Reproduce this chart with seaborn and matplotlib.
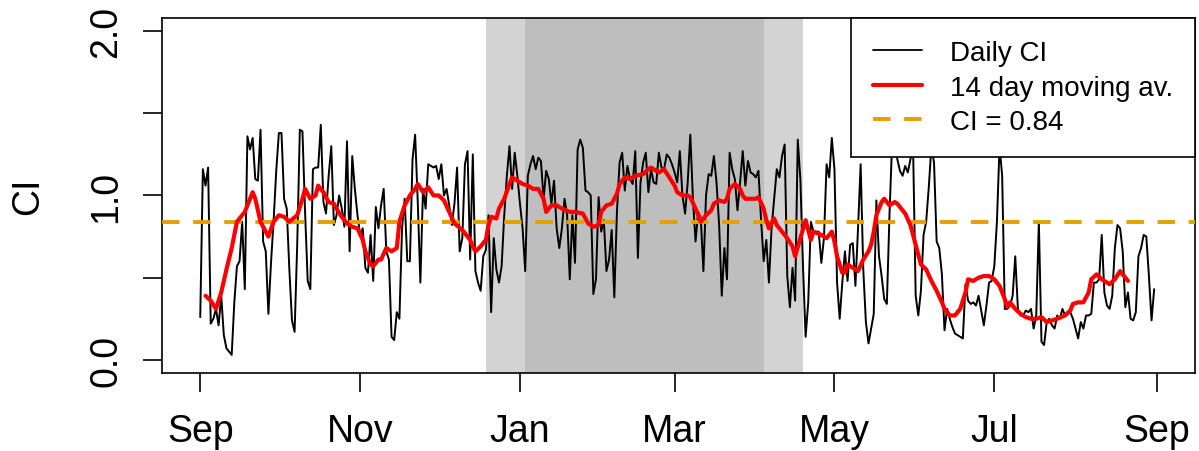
import matplotlib
matplotlib.use("Agg")
import matplotlib.pyplot as plt
import numpy as np
import pandas as pd
import seaborn as sns

# ---- data -------------------------------------------------------------
start_date = "2020-09-01"

# daily CI, one value per day from 1 Sep 2020
daily_ci = [
    # Sep
    0.26, 1.16, 1.06, 1.17, 0.22, 0.25, 0.31, 0.21, 0.39, 0.15,
    0.07, 0.05, 0.03, 0.35, 0.57, 0.60, 0.84, 0.43, 1.36, 1.28,
    1.35, 1.10, 1.09, 1.40, 0.72, 0.66, 0.28, 0.59, 0.85, 1.15,
    # Oct
    1.38, 1.38, 0.98, 0.92, 0.55, 0.24, 0.17, 0.70, 1.40, 1.39,
    0.90, 0.48, 0.43, 1.16, 1.17, 1.17, 1.43, 0.96, 0.89, 1.12,
    1.30, 0.82, 0.88, 1.00, 0.92, 0.81, 1.33, 0.66, 1.24, 1.04,
    0.88,
    # Nov
    0.76, 0.80, 0.56, 0.53, 0.76, 0.48, 0.93, 0.80, 0.94, 1.04,
    0.66, 0.61, 0.14, 0.12, 0.29, 0.25, 0.80, 0.98, 0.60, 0.60,
    1.22, 1.37, 0.96, 0.47, 1.04, 0.92, 1.19, 1.18, 1.17, 1.18,
    # Dec
    1.10, 1.19, 1.00, 1.04, 0.94, 0.82, 0.95, 1.17, 0.66, 0.74,
    1.19, 1.27, 0.61, 1.25, 0.54, 0.47, 0.42, 0.63, 0.67, 0.88,
    0.29, 0.74, 0.55, 0.47, 0.57, 0.88, 1.12, 1.30, 1.04, 1.26,
    1.12,
    # Jan
    0.95, 0.80, 0.54, 1.12, 1.19, 1.24, 1.16, 1.23, 1.21, 0.98,
    1.15, 1.10, 0.95, 1.09, 0.80, 0.68, 0.80, 0.98, 0.88, 0.49,
    0.88, 0.59, 1.28, 1.34, 1.29, 1.03, 1.02, 1.00, 0.40, 0.49,
    0.99,
    # Feb
    0.78, 0.85, 0.54, 0.61, 0.79, 0.38, 0.90, 1.20, 1.26, 1.03,
    1.18, 1.10, 1.07, 1.27, 0.62, 1.08, 1.20, 1.26, 1.02, 1.16,
    1.08, 1.07, 1.26, 1.17, 1.16, 1.25, 1.23, 1.19,
    # Mar
    1.14, 1.08, 1.27, 1.00, 0.89, 1.08, 1.37, 0.98, 0.72, 0.90,
    0.86, 0.54, 1.00, 1.13, 1.12, 1.24, 1.08, 0.82, 0.39, 0.68,
    0.49, 1.26, 1.16, 1.10, 0.91, 1.08, 1.27, 1.06, 1.21, 1.14,
    1.13,
    # Apr
    1.11, 1.15, 0.85, 0.60, 0.73, 0.47, 0.80, 0.98, 1.16, 1.11,
    1.24, 1.31, 0.51, 0.32, 0.56, 0.36, 1.34, 1.10, 0.57, 0.14,
    0.35, 0.84, 0.78, 0.78, 0.78, 0.59, 0.74, 1.19, 1.11, 1.35,
    # May
    1.16, 0.47, 0.25, 0.47, 0.66, 0.48, 0.70, 0.71, 0.45, 0.80,
    1.19, 0.55, 0.23, 0.10, 0.19, 0.28, 0.97, 0.63, 0.51, 0.37,
    0.34, 0.88, 1.32, 1.35, 1.22, 1.15, 1.12, 1.18, 1.14, 1.22,
    1.30,
    # Jun
    0.39, 0.27, 0.42, 0.76, 0.84, 1.05, 1.30, 1.20, 0.72, 0.68,
    0.52, 0.18, 0.31, 0.25, 0.20, 0.16, 0.15, 0.14, 0.13, 0.46,
    0.36, 0.34, 0.35, 0.33, 0.39, 0.30, 0.21, 0.33, 0.47, 0.48,
    # Jul
    0.57, 0.84, 1.30, 1.12, 0.31, 0.31, 0.33, 0.39, 0.63, 0.31,
    0.27, 0.27, 0.30, 0.29, 0.31, 0.19, 0.27, 0.84, 0.11, 0.09,
    0.23, 0.25, 0.21, 0.19, 0.27, 0.25, 0.31, 0.27, 0.29, 0.29,
    0.25,
    # Aug
    0.19, 0.13, 0.23, 0.19, 0.27, 0.27, 0.28, 0.47, 0.47, 0.49,
    0.76, 0.41, 0.33, 0.31, 0.39, 0.68, 0.82, 0.80, 0.66, 0.32,
    0.41, 0.25, 0.24, 0.29, 0.63, 0.68, 0.76, 0.75, 0.51, 0.24,
    0.43,
]

# 14 day moving average (day offset from start, value)
ma_day = [
    2, 4, 6, 8, 10, 12, 13, 14, 16, 17, 18, 20, 21, 23, 26, 28, 30, 32, 34, 37,
    39, 40, 42, 44, 45, 47, 49, 51, 52, 54, 56, 58, 60, 62, 63, 65, 66, 68, 69, 71,
    73, 75, 76, 78, 80, 82, 83, 85, 87, 89, 91, 93, 95, 97, 100, 103, 104, 105, 107, 109,
    110, 111, 113, 114, 116, 118, 119, 121, 123, 125, 127, 129, 131, 132, 134, 136, 138, 141, 143, 146,
    148, 150, 152, 153, 155, 157, 159, 160, 162, 164, 166, 169, 171, 172, 175, 177, 179, 181, 182, 184,
    186, 187, 189, 191, 193, 195, 196, 198, 200, 201, 202, 204, 206, 207, 208, 210, 212, 213, 215, 216,
    217, 219, 220, 222, 224, 226, 227, 229, 231, 233, 234, 237, 239, 241, 242, 243, 245, 246, 247, 249,
    251, 253, 255, 256, 257, 258, 260, 261, 263, 265, 266, 268, 269, 271, 273, 275, 277, 279, 281, 283,
    284, 286, 288, 290, 292, 293, 295, 297, 299, 301, 303, 305, 307, 308, 309, 311, 313, 315, 317, 319,
    321, 323, 325, 327, 330, 332, 333, 335, 337, 339, 340, 342, 344, 347, 349, 351, 352, 354,
]
ma_value = [
    0.39, 0.36, 0.31, 0.41, 0.55, 0.68, 0.76, 0.84, 0.88, 0.90, 0.94, 1.02, 0.98, 0.84, 0.75, 0.84, 0.88, 0.87, 0.84, 0.88,
    0.98, 1.04, 0.98, 1.00, 1.06, 1.02, 0.96, 0.95, 0.92, 0.87, 0.83, 0.81, 0.80, 0.73, 0.66, 0.58, 0.57, 0.61, 0.61, 0.68,
    0.66, 0.68, 0.84, 0.94, 1.00, 1.04, 1.07, 1.02, 1.05, 1.00, 1.00, 0.97, 0.90, 0.83, 0.79, 0.73, 0.69, 0.66, 0.69, 0.73,
    0.82, 0.87, 0.86, 0.92, 0.98, 1.07, 1.11, 1.09, 1.07, 1.06, 1.04, 1.04, 0.98, 0.90, 0.94, 0.94, 0.92, 0.90, 0.90, 0.89,
    0.83, 0.81, 0.82, 0.90, 0.94, 0.95, 1.01, 1.07, 1.11, 1.10, 1.12, 1.13, 1.16, 1.17, 1.14, 1.16, 1.11, 1.06, 1.02, 1.00,
    1.00, 0.99, 0.92, 0.84, 0.88, 0.91, 0.95, 0.97, 0.96, 0.98, 1.04, 1.07, 1.04, 1.00, 0.98, 0.98, 0.98, 0.99, 0.92, 0.85,
    0.80, 0.86, 0.82, 0.78, 0.74, 0.69, 0.63, 0.74, 0.85, 0.73, 0.78, 0.76, 0.74, 0.78, 0.72, 0.63, 0.53, 0.53, 0.58, 0.56,
    0.54, 0.61, 0.66, 0.70, 0.78, 0.88, 0.96, 0.98, 0.94, 0.96, 0.95, 0.91, 0.89, 0.82, 0.70, 0.58, 0.55, 0.48, 0.42, 0.35,
    0.31, 0.27, 0.27, 0.31, 0.41, 0.49, 0.48, 0.50, 0.51, 0.51, 0.49, 0.45, 0.37, 0.32, 0.35, 0.31, 0.28, 0.26, 0.25, 0.25,
    0.26, 0.23, 0.24, 0.25, 0.27, 0.30, 0.34, 0.35, 0.35, 0.41, 0.49, 0.52, 0.49, 0.46, 0.49, 0.54, 0.52, 0.48,
]

threshold = 0.84
outer_period = ("2020-12-19", "2021-04-19")
inner_period = ("2021-01-03", "2021-04-04")

x_range = ("2020-09-01", "2021-09-01")
month_ticks = ["2020-09-01", "2020-11-01", "2021-01-01", "2021-03-01",
               "2021-05-01", "2021-07-01", "2021-09-01"]
month_labels = ["Sep", "Nov", "Jan", "Mar", "May", "Jul", "Sep"]
y_ticks = [0.0, 0.5, 1.0, 1.5, 2.0]
y_labels = ["0.0", "", "1.0", "", "2.0"]

legend_labels = ["Daily CI", "14 day moving av.", "CI = 0.84"]

# ---- frames -----------------------------------------------------------
t0 = pd.Timestamp(start_date)
daily = pd.DataFrame({"date": pd.date_range(t0, periods=len(daily_ci), freq="D"),
                      "ci": daily_ci})
moving = pd.DataFrame({"date": t0 + pd.to_timedelta(ma_day, unit="D"),
                       "ci": ma_value})

# ---- style ------------------------------------------------------------
sns.set_style("ticks")
plt.rcParams["font.family"] = ["Liberation Sans", "DejaVu Sans"]
plt.rcParams["axes.edgecolor"] = "black"
plt.rcParams["axes.linewidth"] = 1.2
plt.rcParams["text.color"] = "black"

fig = plt.figure(figsize=(11.99, 4.52), dpi=100)
ax = fig.add_axes([0.1351, 0.1726, 0.9967 - 0.1351, 0.958 - 0.1726])

# period shading
ax.axvspan(pd.Timestamp(outer_period[0]), pd.Timestamp(outer_period[1]),
           color="#D3D3D3", lw=0, zorder=0)
ax.axvspan(pd.Timestamp(inner_period[0]), pd.Timestamp(inner_period[1]),
           color="#BEBEBE", lw=0, zorder=0.5)

sns.lineplot(data=daily, x="date", y="ci", ax=ax, color="black", lw=1.4,
             estimator=None, sort=False, zorder=2)
ax.axhline(threshold, color="#E69F00", lw=2.8, ls=(0, (4.5, 3.5)),
           dash_capstyle="butt", zorder=3)
sns.lineplot(data=moving, x="date", y="ci", ax=ax, color="#FF0000", lw=3.0,
             estimator=None, sort=False, zorder=4)

# ---- axes -------------------------------------------------------------
x0, x1 = pd.Timestamp(x_range[0]), pd.Timestamp(x_range[1])
span = x1 - x0
ax.set_xlim(x0 - 0.04 * span, x1 + 0.04 * span)
ax.set_ylim(-0.08, 2.08)

ax.set_xticks([pd.Timestamp(t) for t in month_ticks])
ax.set_xticklabels(month_labels)
ax.set_yticks(y_ticks)
ax.set_yticklabels(y_labels, rotation=90, va="center")

ax.tick_params(axis="both", direction="out", length=14, width=1.2,
               color="black", labelsize=27, labelcolor="black")
ax.tick_params(axis="x", pad=15)
ax.tick_params(axis="y", pad=13)

ax.set_xlabel("")
ax.set_ylabel("CI", fontsize=27, color="black")
ax.yaxis.set_label_coords(-0.112, 0.5)

for side in ["left", "right", "top", "bottom"]:
    ax.spines[side].set_visible(True)
    ax.spines[side].set_color("black")
    ax.spines[side].set_linewidth(1.2)

# ---- legend -----------------------------------------------------------
handles = [
    plt.Line2D([], [], color="black", lw=1.3),
    plt.Line2D([], [], color="#FF0000", lw=3.0),
    plt.Line2D([], [], color="#E69F00", lw=2.8, ls=(0, (4.5, 3.5)),
               dash_capstyle="butt"),
]
leg = ax.legend(handles, legend_labels, loc="upper right", fontsize=20,
                frameon=True, fancybox=False, framealpha=1.0,
                edgecolor="black", borderaxespad=0, borderpad=0.8,
                handlelength=1.75, handletextpad=1.0, labelspacing=0.3,
                labelcolor="black")
leg.get_frame().set_linewidth(1.2)
leg.set_zorder(10)

fig.savefig("out.png", dpi=100)
